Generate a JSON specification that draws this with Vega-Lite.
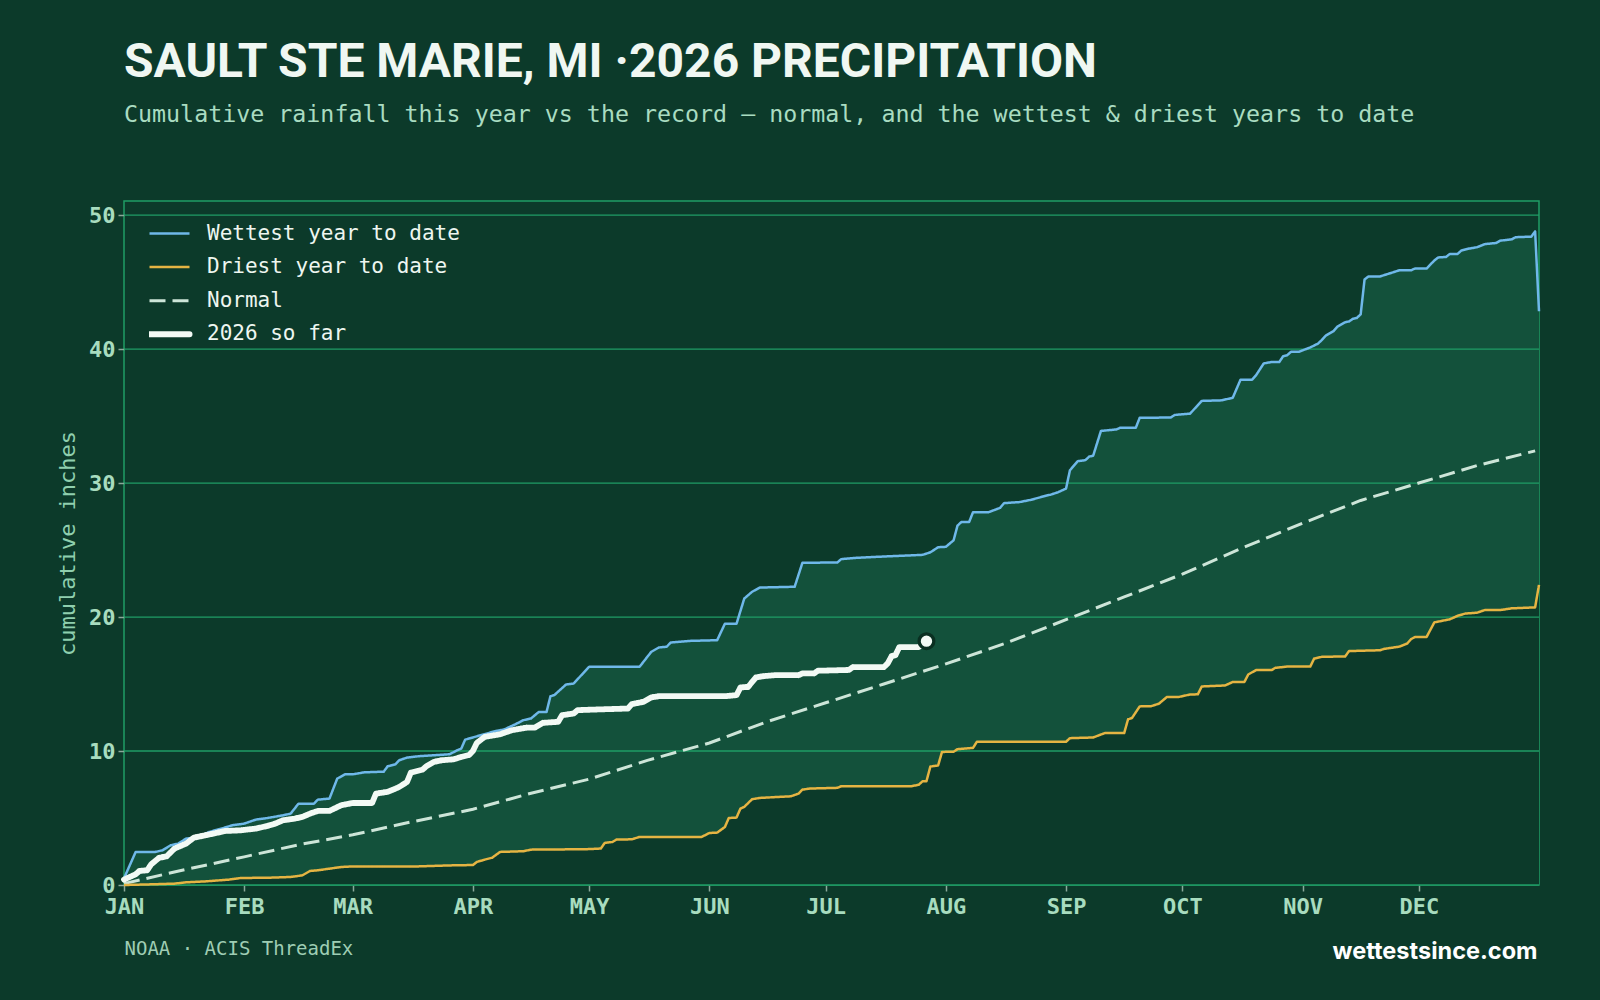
{
  "$schema": "https://vega.github.io/schema/vega-lite/v6.json",
  "width": 1415,
  "height": 684,
  "autosize": {"type": "none"},
  "padding": {"left": 124, "top": 201, "right": 61, "bottom": 115},
  "background": "#0c3a2a",
  "title": {
    "text": "SAULT STE MARIE, MI ·2026 PRECIPITATION",
    "subtitle": "Cumulative rainfall this year vs the record — normal, and the wettest & driest years to date",
    "anchor": "start",
    "frame": "group",
    "font": "Roboto",
    "fontSize": 48,
    "fontWeight": "bold",
    "color": "#f0f7f2",
    "subtitleFont": "DejaVu Sans Mono",
    "subtitleFontSize": 23.3,
    "subtitleColor": "#a9dcc1",
    "subtitlePadding": 17,
    "offset": 75
  },
  "config": {
    "view": {"stroke": "#1f9d66", "strokeWidth": 1.5},
    "legend": {
      "orient": "none",
      "legendX": 25,
      "legendY": 22,
      "padding": 0,
      "symbolType": "stroke",
      "symbolSize": 1600,
      "symbolStrokeWidth": 2.5,
      "symbolOffset": 10,
      "clipHeight": 21,
      "rowPadding": 11.6,
      "labelOffset": 27,
      "labelFont": "DejaVu Sans Mono",
      "labelFontSize": 21,
      "labelColor": "#eef6f0",
      "labelLimit": 400
    }
  },
  "datasets": {
    "grid": [{"v": 0}, {"v": 10}, {"v": 20}, {"v": 30}, {"v": 40}, {"v": 50}],
    "latest": [{"date": "2026-07-27", "inches": 18.2}],
    "lines": [
      {"series": "Normal", "date": "2026-01-01", "inches": 0.1},
      {"series": "Normal", "date": "2026-01-16", "inches": 1.1},
      {"series": "Normal", "date": "2026-02-01", "inches": 2.1},
      {"series": "Normal", "date": "2026-02-15", "inches": 3.0},
      {"series": "Normal", "date": "2026-03-01", "inches": 3.75},
      {"series": "Normal", "date": "2026-03-16", "inches": 4.7},
      {"series": "Normal", "date": "2026-04-01", "inches": 5.65},
      {"series": "Normal", "date": "2026-04-16", "inches": 6.85},
      {"series": "Normal", "date": "2026-05-01", "inches": 7.9},
      {"series": "Normal", "date": "2026-05-16", "inches": 9.3},
      {"series": "Normal", "date": "2026-06-01", "inches": 10.6},
      {"series": "Normal", "date": "2026-06-16", "inches": 12.2},
      {"series": "Normal", "date": "2026-07-01", "inches": 13.6},
      {"series": "Normal", "date": "2026-07-16", "inches": 15.0},
      {"series": "Normal", "date": "2026-08-01", "inches": 16.5},
      {"series": "Normal", "date": "2026-08-16", "inches": 18.0},
      {"series": "Normal", "date": "2026-09-01", "inches": 19.8},
      {"series": "Normal", "date": "2026-09-16", "inches": 21.5},
      {"series": "Normal", "date": "2026-10-01", "inches": 23.2},
      {"series": "Normal", "date": "2026-10-16", "inches": 25.1},
      {"series": "Normal", "date": "2026-11-01", "inches": 27.0},
      {"series": "Normal", "date": "2026-11-16", "inches": 28.7},
      {"series": "Normal", "date": "2026-12-01", "inches": 30.0},
      {"series": "Normal", "date": "2026-12-16", "inches": 31.3},
      {"series": "Normal", "date": "2026-12-31", "inches": 32.4},

      {"series": "Driest year to date", "date": "2026-01-01", "inches": 0.0},
      {"series": "Driest year to date", "date": "2026-01-08", "inches": 0.05},
      {"series": "Driest year to date", "date": "2026-01-14", "inches": 0.1},
      {"series": "Driest year to date", "date": "2026-01-17", "inches": 0.2},
      {"series": "Driest year to date", "date": "2026-01-22", "inches": 0.27},
      {"series": "Driest year to date", "date": "2026-01-28", "inches": 0.4},
      {"series": "Driest year to date", "date": "2026-01-31", "inches": 0.52},
      {"series": "Driest year to date", "date": "2026-02-08", "inches": 0.55},
      {"series": "Driest year to date", "date": "2026-02-13", "inches": 0.6},
      {"series": "Driest year to date", "date": "2026-02-16", "inches": 0.72},
      {"series": "Driest year to date", "date": "2026-02-18", "inches": 1.05},
      {"series": "Driest year to date", "date": "2026-02-20", "inches": 1.1},
      {"series": "Driest year to date", "date": "2026-02-23", "inches": 1.22},
      {"series": "Driest year to date", "date": "2026-02-26", "inches": 1.34},
      {"series": "Driest year to date", "date": "2026-03-01", "inches": 1.39},
      {"series": "Driest year to date", "date": "2026-03-18", "inches": 1.39},
      {"series": "Driest year to date", "date": "2026-03-27", "inches": 1.47},
      {"series": "Driest year to date", "date": "2026-04-01", "inches": 1.49},
      {"series": "Driest year to date", "date": "2026-04-02", "inches": 1.72},
      {"series": "Driest year to date", "date": "2026-04-04", "inches": 1.89},
      {"series": "Driest year to date", "date": "2026-04-06", "inches": 2.04},
      {"series": "Driest year to date", "date": "2026-04-08", "inches": 2.47},
      {"series": "Driest year to date", "date": "2026-04-14", "inches": 2.52},
      {"series": "Driest year to date", "date": "2026-04-16", "inches": 2.64},
      {"series": "Driest year to date", "date": "2026-04-30", "inches": 2.67},
      {"series": "Driest year to date", "date": "2026-05-04", "inches": 2.72},
      {"series": "Driest year to date", "date": "2026-05-05", "inches": 3.14},
      {"series": "Driest year to date", "date": "2026-05-07", "inches": 3.21},
      {"series": "Driest year to date", "date": "2026-05-08", "inches": 3.39},
      {"series": "Driest year to date", "date": "2026-05-12", "inches": 3.41},
      {"series": "Driest year to date", "date": "2026-05-14", "inches": 3.59},
      {"series": "Driest year to date", "date": "2026-05-30", "inches": 3.59},
      {"series": "Driest year to date", "date": "2026-06-01", "inches": 3.88},
      {"series": "Driest year to date", "date": "2026-06-03", "inches": 3.91},
      {"series": "Driest year to date", "date": "2026-06-05", "inches": 4.33},
      {"series": "Driest year to date", "date": "2026-06-06", "inches": 5.0},
      {"series": "Driest year to date", "date": "2026-06-08", "inches": 5.03},
      {"series": "Driest year to date", "date": "2026-06-09", "inches": 5.7},
      {"series": "Driest year to date", "date": "2026-06-10", "inches": 5.83},
      {"series": "Driest year to date", "date": "2026-06-12", "inches": 6.4},
      {"series": "Driest year to date", "date": "2026-06-14", "inches": 6.5},
      {"series": "Driest year to date", "date": "2026-06-22", "inches": 6.62},
      {"series": "Driest year to date", "date": "2026-06-24", "inches": 6.82},
      {"series": "Driest year to date", "date": "2026-06-25", "inches": 7.12},
      {"series": "Driest year to date", "date": "2026-06-27", "inches": 7.2},
      {"series": "Driest year to date", "date": "2026-07-04", "inches": 7.25},
      {"series": "Driest year to date", "date": "2026-07-05", "inches": 7.37},
      {"series": "Driest year to date", "date": "2026-07-23", "inches": 7.37},
      {"series": "Driest year to date", "date": "2026-07-25", "inches": 7.48},
      {"series": "Driest year to date", "date": "2026-07-26", "inches": 7.75},
      {"series": "Driest year to date", "date": "2026-07-27", "inches": 7.75},
      {"series": "Driest year to date", "date": "2026-07-28", "inches": 8.84},
      {"series": "Driest year to date", "date": "2026-07-30", "inches": 8.92},
      {"series": "Driest year to date", "date": "2026-07-31", "inches": 9.93},
      {"series": "Driest year to date", "date": "2026-08-03", "inches": 9.95},
      {"series": "Driest year to date", "date": "2026-08-04", "inches": 10.14},
      {"series": "Driest year to date", "date": "2026-08-08", "inches": 10.23},
      {"series": "Driest year to date", "date": "2026-08-09", "inches": 10.69},
      {"series": "Driest year to date", "date": "2026-09-01", "inches": 10.69},
      {"series": "Driest year to date", "date": "2026-09-02", "inches": 10.96},
      {"series": "Driest year to date", "date": "2026-09-08", "inches": 11.01},
      {"series": "Driest year to date", "date": "2026-09-11", "inches": 11.34},
      {"series": "Driest year to date", "date": "2026-09-16", "inches": 11.34},
      {"series": "Driest year to date", "date": "2026-09-17", "inches": 12.37},
      {"series": "Driest year to date", "date": "2026-09-18", "inches": 12.46},
      {"series": "Driest year to date", "date": "2026-09-20", "inches": 13.33},
      {"series": "Driest year to date", "date": "2026-09-23", "inches": 13.35},
      {"series": "Driest year to date", "date": "2026-09-25", "inches": 13.54},
      {"series": "Driest year to date", "date": "2026-09-27", "inches": 14.03},
      {"series": "Driest year to date", "date": "2026-09-30", "inches": 14.03},
      {"series": "Driest year to date", "date": "2026-10-03", "inches": 14.22},
      {"series": "Driest year to date", "date": "2026-10-05", "inches": 14.23},
      {"series": "Driest year to date", "date": "2026-10-06", "inches": 14.82},
      {"series": "Driest year to date", "date": "2026-10-12", "inches": 14.89},
      {"series": "Driest year to date", "date": "2026-10-14", "inches": 15.15},
      {"series": "Driest year to date", "date": "2026-10-17", "inches": 15.15},
      {"series": "Driest year to date", "date": "2026-10-18", "inches": 15.71},
      {"series": "Driest year to date", "date": "2026-10-20", "inches": 16.04},
      {"series": "Driest year to date", "date": "2026-10-24", "inches": 16.04},
      {"series": "Driest year to date", "date": "2026-10-25", "inches": 16.21},
      {"series": "Driest year to date", "date": "2026-10-28", "inches": 16.3},
      {"series": "Driest year to date", "date": "2026-11-03", "inches": 16.3},
      {"series": "Driest year to date", "date": "2026-11-04", "inches": 16.9},
      {"series": "Driest year to date", "date": "2026-11-06", "inches": 17.03},
      {"series": "Driest year to date", "date": "2026-11-12", "inches": 17.06},
      {"series": "Driest year to date", "date": "2026-11-13", "inches": 17.46},
      {"series": "Driest year to date", "date": "2026-11-21", "inches": 17.52},
      {"series": "Driest year to date", "date": "2026-11-22", "inches": 17.62},
      {"series": "Driest year to date", "date": "2026-11-26", "inches": 17.79},
      {"series": "Driest year to date", "date": "2026-11-28", "inches": 18.02},
      {"series": "Driest year to date", "date": "2026-11-29", "inches": 18.35},
      {"series": "Driest year to date", "date": "2026-11-30", "inches": 18.51},
      {"series": "Driest year to date", "date": "2026-12-03", "inches": 18.51},
      {"series": "Driest year to date", "date": "2026-12-05", "inches": 19.6},
      {"series": "Driest year to date", "date": "2026-12-09", "inches": 19.83},
      {"series": "Driest year to date", "date": "2026-12-11", "inches": 20.09},
      {"series": "Driest year to date", "date": "2026-12-13", "inches": 20.26},
      {"series": "Driest year to date", "date": "2026-12-16", "inches": 20.32},
      {"series": "Driest year to date", "date": "2026-12-18", "inches": 20.52},
      {"series": "Driest year to date", "date": "2026-12-22", "inches": 20.52},
      {"series": "Driest year to date", "date": "2026-12-25", "inches": 20.65},
      {"series": "Driest year to date", "date": "2026-12-31", "inches": 20.72},
      {"series": "Driest year to date", "date": "2027-01-01", "inches": 22.4},

      {"series": "Wettest year to date", "date": "2026-01-01", "inches": 0.5},
      {"series": "Wettest year to date", "date": "2026-01-04", "inches": 2.46},
      {"series": "Wettest year to date", "date": "2026-01-09", "inches": 2.46},
      {"series": "Wettest year to date", "date": "2026-01-11", "inches": 2.6},
      {"series": "Wettest year to date", "date": "2026-01-13", "inches": 2.96},
      {"series": "Wettest year to date", "date": "2026-01-15", "inches": 3.09},
      {"series": "Wettest year to date", "date": "2026-01-17", "inches": 3.46},
      {"series": "Wettest year to date", "date": "2026-01-20", "inches": 3.58},
      {"series": "Wettest year to date", "date": "2026-01-23", "inches": 3.96},
      {"series": "Wettest year to date", "date": "2026-01-26", "inches": 4.2},
      {"series": "Wettest year to date", "date": "2026-01-29", "inches": 4.46},
      {"series": "Wettest year to date", "date": "2026-02-01", "inches": 4.58},
      {"series": "Wettest year to date", "date": "2026-02-04", "inches": 4.88},
      {"series": "Wettest year to date", "date": "2026-02-07", "inches": 5.0},
      {"series": "Wettest year to date", "date": "2026-02-11", "inches": 5.2},
      {"series": "Wettest year to date", "date": "2026-02-13", "inches": 5.33},
      {"series": "Wettest year to date", "date": "2026-02-15", "inches": 6.07},
      {"series": "Wettest year to date", "date": "2026-02-19", "inches": 6.07},
      {"series": "Wettest year to date", "date": "2026-02-20", "inches": 6.37},
      {"series": "Wettest year to date", "date": "2026-02-23", "inches": 6.45},
      {"series": "Wettest year to date", "date": "2026-02-25", "inches": 7.94},
      {"series": "Wettest year to date", "date": "2026-02-27", "inches": 8.26},
      {"series": "Wettest year to date", "date": "2026-03-01", "inches": 8.26},
      {"series": "Wettest year to date", "date": "2026-03-04", "inches": 8.41},
      {"series": "Wettest year to date", "date": "2026-03-09", "inches": 8.46},
      {"series": "Wettest year to date", "date": "2026-03-10", "inches": 8.86},
      {"series": "Wettest year to date", "date": "2026-03-12", "inches": 9.01},
      {"series": "Wettest year to date", "date": "2026-03-13", "inches": 9.31},
      {"series": "Wettest year to date", "date": "2026-03-15", "inches": 9.51},
      {"series": "Wettest year to date", "date": "2026-03-18", "inches": 9.61},
      {"series": "Wettest year to date", "date": "2026-03-26", "inches": 9.76},
      {"series": "Wettest year to date", "date": "2026-03-28", "inches": 10.06},
      {"series": "Wettest year to date", "date": "2026-03-29", "inches": 10.18},
      {"series": "Wettest year to date", "date": "2026-03-30", "inches": 10.85},
      {"series": "Wettest year to date", "date": "2026-03-31", "inches": 10.93},
      {"series": "Wettest year to date", "date": "2026-04-03", "inches": 11.18},
      {"series": "Wettest year to date", "date": "2026-04-07", "inches": 11.5},
      {"series": "Wettest year to date", "date": "2026-04-09", "inches": 11.6},
      {"series": "Wettest year to date", "date": "2026-04-12", "inches": 12.0},
      {"series": "Wettest year to date", "date": "2026-04-14", "inches": 12.3},
      {"series": "Wettest year to date", "date": "2026-04-16", "inches": 12.43},
      {"series": "Wettest year to date", "date": "2026-04-18", "inches": 12.92},
      {"series": "Wettest year to date", "date": "2026-04-20", "inches": 12.92},
      {"series": "Wettest year to date", "date": "2026-04-21", "inches": 14.09},
      {"series": "Wettest year to date", "date": "2026-04-22", "inches": 14.17},
      {"series": "Wettest year to date", "date": "2026-04-25", "inches": 14.96},
      {"series": "Wettest year to date", "date": "2026-04-27", "inches": 15.04},
      {"series": "Wettest year to date", "date": "2026-04-29", "inches": 15.67},
      {"series": "Wettest year to date", "date": "2026-05-01", "inches": 16.29},
      {"series": "Wettest year to date", "date": "2026-05-14", "inches": 16.29},
      {"series": "Wettest year to date", "date": "2026-05-17", "inches": 17.4},
      {"series": "Wettest year to date", "date": "2026-05-19", "inches": 17.73},
      {"series": "Wettest year to date", "date": "2026-05-21", "inches": 17.78},
      {"series": "Wettest year to date", "date": "2026-05-22", "inches": 18.1},
      {"series": "Wettest year to date", "date": "2026-05-27", "inches": 18.22},
      {"series": "Wettest year to date", "date": "2026-06-03", "inches": 18.27},
      {"series": "Wettest year to date", "date": "2026-06-05", "inches": 19.5},
      {"series": "Wettest year to date", "date": "2026-06-08", "inches": 19.5},
      {"series": "Wettest year to date", "date": "2026-06-10", "inches": 21.38},
      {"series": "Wettest year to date", "date": "2026-06-12", "inches": 21.88},
      {"series": "Wettest year to date", "date": "2026-06-14", "inches": 22.2},
      {"series": "Wettest year to date", "date": "2026-06-23", "inches": 22.26},
      {"series": "Wettest year to date", "date": "2026-06-25", "inches": 24.05},
      {"series": "Wettest year to date", "date": "2026-07-04", "inches": 24.07},
      {"series": "Wettest year to date", "date": "2026-07-05", "inches": 24.32},
      {"series": "Wettest year to date", "date": "2026-07-09", "inches": 24.42},
      {"series": "Wettest year to date", "date": "2026-07-17", "inches": 24.53},
      {"series": "Wettest year to date", "date": "2026-07-26", "inches": 24.64},
      {"series": "Wettest year to date", "date": "2026-07-28", "inches": 24.83},
      {"series": "Wettest year to date", "date": "2026-07-30", "inches": 25.21},
      {"series": "Wettest year to date", "date": "2026-08-01", "inches": 25.24},
      {"series": "Wettest year to date", "date": "2026-08-03", "inches": 25.73},
      {"series": "Wettest year to date", "date": "2026-08-04", "inches": 26.82},
      {"series": "Wettest year to date", "date": "2026-08-05", "inches": 27.09},
      {"series": "Wettest year to date", "date": "2026-08-07", "inches": 27.09},
      {"series": "Wettest year to date", "date": "2026-08-08", "inches": 27.82},
      {"series": "Wettest year to date", "date": "2026-08-12", "inches": 27.82},
      {"series": "Wettest year to date", "date": "2026-08-14", "inches": 28.04},
      {"series": "Wettest year to date", "date": "2026-08-15", "inches": 28.15},
      {"series": "Wettest year to date", "date": "2026-08-16", "inches": 28.5},
      {"series": "Wettest year to date", "date": "2026-08-20", "inches": 28.58},
      {"series": "Wettest year to date", "date": "2026-08-23", "inches": 28.75},
      {"series": "Wettest year to date", "date": "2026-08-25", "inches": 28.91},
      {"series": "Wettest year to date", "date": "2026-08-27", "inches": 29.07},
      {"series": "Wettest year to date", "date": "2026-08-28", "inches": 29.13},
      {"series": "Wettest year to date", "date": "2026-08-30", "inches": 29.32},
      {"series": "Wettest year to date", "date": "2026-09-01", "inches": 29.59},
      {"series": "Wettest year to date", "date": "2026-09-02", "inches": 30.95},
      {"series": "Wettest year to date", "date": "2026-09-04", "inches": 31.63},
      {"series": "Wettest year to date", "date": "2026-09-06", "inches": 31.71},
      {"series": "Wettest year to date", "date": "2026-09-07", "inches": 31.98},
      {"series": "Wettest year to date", "date": "2026-09-08", "inches": 32.04},
      {"series": "Wettest year to date", "date": "2026-09-10", "inches": 33.89},
      {"series": "Wettest year to date", "date": "2026-09-14", "inches": 34.0},
      {"series": "Wettest year to date", "date": "2026-09-15", "inches": 34.13},
      {"series": "Wettest year to date", "date": "2026-09-19", "inches": 34.13},
      {"series": "Wettest year to date", "date": "2026-09-20", "inches": 34.87},
      {"series": "Wettest year to date", "date": "2026-09-28", "inches": 34.89},
      {"series": "Wettest year to date", "date": "2026-09-29", "inches": 35.08},
      {"series": "Wettest year to date", "date": "2026-10-03", "inches": 35.18},
      {"series": "Wettest year to date", "date": "2026-10-06", "inches": 36.13},
      {"series": "Wettest year to date", "date": "2026-10-11", "inches": 36.17},
      {"series": "Wettest year to date", "date": "2026-10-14", "inches": 36.36},
      {"series": "Wettest year to date", "date": "2026-10-16", "inches": 37.71},
      {"series": "Wettest year to date", "date": "2026-10-19", "inches": 37.71},
      {"series": "Wettest year to date", "date": "2026-10-20", "inches": 38.04},
      {"series": "Wettest year to date", "date": "2026-10-22", "inches": 38.93},
      {"series": "Wettest year to date", "date": "2026-10-24", "inches": 39.03},
      {"series": "Wettest year to date", "date": "2026-10-26", "inches": 39.03},
      {"series": "Wettest year to date", "date": "2026-10-27", "inches": 39.46},
      {"series": "Wettest year to date", "date": "2026-10-28", "inches": 39.53},
      {"series": "Wettest year to date", "date": "2026-10-29", "inches": 39.79},
      {"series": "Wettest year to date", "date": "2026-10-31", "inches": 39.79},
      {"series": "Wettest year to date", "date": "2026-11-03", "inches": 40.12},
      {"series": "Wettest year to date", "date": "2026-11-05", "inches": 40.41},
      {"series": "Wettest year to date", "date": "2026-11-06", "inches": 40.68},
      {"series": "Wettest year to date", "date": "2026-11-07", "inches": 41.0},
      {"series": "Wettest year to date", "date": "2026-11-09", "inches": 41.34},
      {"series": "Wettest year to date", "date": "2026-11-10", "inches": 41.67},
      {"series": "Wettest year to date", "date": "2026-11-12", "inches": 42.0},
      {"series": "Wettest year to date", "date": "2026-11-13", "inches": 42.06},
      {"series": "Wettest year to date", "date": "2026-11-14", "inches": 42.26},
      {"series": "Wettest year to date", "date": "2026-11-15", "inches": 42.32},
      {"series": "Wettest year to date", "date": "2026-11-16", "inches": 42.59},
      {"series": "Wettest year to date", "date": "2026-11-17", "inches": 45.19},
      {"series": "Wettest year to date", "date": "2026-11-18", "inches": 45.42},
      {"series": "Wettest year to date", "date": "2026-11-21", "inches": 45.42},
      {"series": "Wettest year to date", "date": "2026-11-26", "inches": 45.88},
      {"series": "Wettest year to date", "date": "2026-11-29", "inches": 45.88},
      {"series": "Wettest year to date", "date": "2026-11-30", "inches": 46.01},
      {"series": "Wettest year to date", "date": "2026-12-03", "inches": 46.01},
      {"series": "Wettest year to date", "date": "2026-12-05", "inches": 46.61},
      {"series": "Wettest year to date", "date": "2026-12-06", "inches": 46.84},
      {"series": "Wettest year to date", "date": "2026-12-08", "inches": 46.87},
      {"series": "Wettest year to date", "date": "2026-12-09", "inches": 47.1},
      {"series": "Wettest year to date", "date": "2026-12-11", "inches": 47.1},
      {"series": "Wettest year to date", "date": "2026-12-12", "inches": 47.36},
      {"series": "Wettest year to date", "date": "2026-12-14", "inches": 47.5},
      {"series": "Wettest year to date", "date": "2026-12-16", "inches": 47.6},
      {"series": "Wettest year to date", "date": "2026-12-18", "inches": 47.83},
      {"series": "Wettest year to date", "date": "2026-12-21", "inches": 47.92},
      {"series": "Wettest year to date", "date": "2026-12-22", "inches": 48.09},
      {"series": "Wettest year to date", "date": "2026-12-25", "inches": 48.19},
      {"series": "Wettest year to date", "date": "2026-12-26", "inches": 48.35},
      {"series": "Wettest year to date", "date": "2026-12-30", "inches": 48.39},
      {"series": "Wettest year to date", "date": "2026-12-31", "inches": 48.78},
      {"series": "Wettest year to date", "date": "2027-01-01", "inches": 42.82},

      {"series": "2026 so far", "date": "2026-01-01", "inches": 0.4},
      {"series": "2026 so far", "date": "2026-01-04", "inches": 0.8},
      {"series": "2026 so far", "date": "2026-01-05", "inches": 1.05},
      {"series": "2026 so far", "date": "2026-01-07", "inches": 1.1},
      {"series": "2026 so far", "date": "2026-01-08", "inches": 1.54},
      {"series": "2026 so far", "date": "2026-01-10", "inches": 2.02},
      {"series": "2026 so far", "date": "2026-01-12", "inches": 2.14},
      {"series": "2026 so far", "date": "2026-01-14", "inches": 2.71},
      {"series": "2026 so far", "date": "2026-01-15", "inches": 2.84},
      {"series": "2026 so far", "date": "2026-01-17", "inches": 3.09},
      {"series": "2026 so far", "date": "2026-01-19", "inches": 3.53},
      {"series": "2026 so far", "date": "2026-01-22", "inches": 3.71},
      {"series": "2026 so far", "date": "2026-01-24", "inches": 3.83},
      {"series": "2026 so far", "date": "2026-01-26", "inches": 3.96},
      {"series": "2026 so far", "date": "2026-01-27", "inches": 4.03},
      {"series": "2026 so far", "date": "2026-01-31", "inches": 4.08},
      {"series": "2026 so far", "date": "2026-02-04", "inches": 4.21},
      {"series": "2026 so far", "date": "2026-02-07", "inches": 4.41},
      {"series": "2026 so far", "date": "2026-02-09", "inches": 4.58},
      {"series": "2026 so far", "date": "2026-02-11", "inches": 4.83},
      {"series": "2026 so far", "date": "2026-02-14", "inches": 4.95},
      {"series": "2026 so far", "date": "2026-02-16", "inches": 5.08},
      {"series": "2026 so far", "date": "2026-02-18", "inches": 5.33},
      {"series": "2026 so far", "date": "2026-02-20", "inches": 5.53},
      {"series": "2026 so far", "date": "2026-02-23", "inches": 5.53},
      {"series": "2026 so far", "date": "2026-02-26", "inches": 5.95},
      {"series": "2026 so far", "date": "2026-03-01", "inches": 6.12},
      {"series": "2026 so far", "date": "2026-03-06", "inches": 6.12},
      {"series": "2026 so far", "date": "2026-03-07", "inches": 6.82},
      {"series": "2026 so far", "date": "2026-03-10", "inches": 6.95},
      {"series": "2026 so far", "date": "2026-03-12", "inches": 7.19},
      {"series": "2026 so far", "date": "2026-03-13", "inches": 7.32},
      {"series": "2026 so far", "date": "2026-03-15", "inches": 7.69},
      {"series": "2026 so far", "date": "2026-03-16", "inches": 8.39},
      {"series": "2026 so far", "date": "2026-03-19", "inches": 8.61},
      {"series": "2026 so far", "date": "2026-03-20", "inches": 8.86},
      {"series": "2026 so far", "date": "2026-03-22", "inches": 9.19},
      {"series": "2026 so far", "date": "2026-03-24", "inches": 9.31},
      {"series": "2026 so far", "date": "2026-03-27", "inches": 9.38},
      {"series": "2026 so far", "date": "2026-03-29", "inches": 9.56},
      {"series": "2026 so far", "date": "2026-03-31", "inches": 9.7},
      {"series": "2026 so far", "date": "2026-04-01", "inches": 10.0},
      {"series": "2026 so far", "date": "2026-04-02", "inches": 10.6},
      {"series": "2026 so far", "date": "2026-04-04", "inches": 11.05},
      {"series": "2026 so far", "date": "2026-04-08", "inches": 11.25},
      {"series": "2026 so far", "date": "2026-04-11", "inches": 11.55},
      {"series": "2026 so far", "date": "2026-04-15", "inches": 11.75},
      {"series": "2026 so far", "date": "2026-04-17", "inches": 11.75},
      {"series": "2026 so far", "date": "2026-04-19", "inches": 12.1},
      {"series": "2026 so far", "date": "2026-04-23", "inches": 12.18},
      {"series": "2026 so far", "date": "2026-04-24", "inches": 12.67},
      {"series": "2026 so far", "date": "2026-04-27", "inches": 12.8},
      {"series": "2026 so far", "date": "2026-04-28", "inches": 13.05},
      {"series": "2026 so far", "date": "2026-05-03", "inches": 13.1},
      {"series": "2026 so far", "date": "2026-05-11", "inches": 13.17},
      {"series": "2026 so far", "date": "2026-05-12", "inches": 13.5},
      {"series": "2026 so far", "date": "2026-05-15", "inches": 13.67},
      {"series": "2026 so far", "date": "2026-05-17", "inches": 14.0},
      {"series": "2026 so far", "date": "2026-05-19", "inches": 14.09},
      {"series": "2026 so far", "date": "2026-06-05", "inches": 14.09},
      {"series": "2026 so far", "date": "2026-06-08", "inches": 14.17},
      {"series": "2026 so far", "date": "2026-06-09", "inches": 14.74},
      {"series": "2026 so far", "date": "2026-06-11", "inches": 14.79},
      {"series": "2026 so far", "date": "2026-06-13", "inches": 15.49},
      {"series": "2026 so far", "date": "2026-06-15", "inches": 15.59},
      {"series": "2026 so far", "date": "2026-06-18", "inches": 15.66},
      {"series": "2026 so far", "date": "2026-06-24", "inches": 15.66},
      {"series": "2026 so far", "date": "2026-06-25", "inches": 15.79},
      {"series": "2026 so far", "date": "2026-06-28", "inches": 15.79},
      {"series": "2026 so far", "date": "2026-06-29", "inches": 15.99},
      {"series": "2026 so far", "date": "2026-07-07", "inches": 16.05},
      {"series": "2026 so far", "date": "2026-07-08", "inches": 16.26},
      {"series": "2026 so far", "date": "2026-07-16", "inches": 16.26},
      {"series": "2026 so far", "date": "2026-07-17", "inches": 16.54},
      {"series": "2026 so far", "date": "2026-07-18", "inches": 17.08},
      {"series": "2026 so far", "date": "2026-07-19", "inches": 17.16},
      {"series": "2026 so far", "date": "2026-07-20", "inches": 17.76},
      {"series": "2026 so far", "date": "2026-07-25", "inches": 17.76},
      {"series": "2026 so far", "date": "2026-07-27", "inches": 18.2}
    ]
  },
  "resolve": {"axis": {"y": "independent"}},
  "layer": [
    {
      "description": "Band from zero up to the wettest year",
      "data": {"name": "lines"},
      "transform": [{"filter": "datum.series === 'Wettest year to date'"}],
      "mark": {"type": "area", "color": "#13513b", "opacity": 1},
      "encoding": {
        "x": {
          "field": "date",
          "type": "temporal",
          "scale": {
            "type": "utc",
            "domain": [
              {"year": 2026, "month": 1, "date": 1, "utc": true},
              {"year": 2027, "month": 1, "date": 1, "utc": true}
            ]
          },
          "axis": {
            "values": [
              {"year": 2026, "month": 1, "date": 1, "utc": true},
              {"year": 2026, "month": 2, "date": 1, "utc": true},
              {"year": 2026, "month": 3, "date": 1, "utc": true},
              {"year": 2026, "month": 4, "date": 1, "utc": true},
              {"year": 2026, "month": 5, "date": 1, "utc": true},
              {"year": 2026, "month": 6, "date": 1, "utc": true},
              {"year": 2026, "month": 7, "date": 1, "utc": true},
              {"year": 2026, "month": 8, "date": 1, "utc": true},
              {"year": 2026, "month": 9, "date": 1, "utc": true},
              {"year": 2026, "month": 10, "date": 1, "utc": true},
              {"year": 2026, "month": 11, "date": 1, "utc": true},
              {"year": 2026, "month": 12, "date": 1, "utc": true}
            ],
            "labelExpr": "upper(utcFormat(datum.value, '%b'))",
            "labelFlush": false,
            "labelOverlap": false,
            "grid": false,
            "domain": false,
            "tickColor": "#8aa89a",
            "tickSize": 6,
            "tickWidth": 1.5,
            "labelFont": "DejaVu Sans Mono",
            "labelFontSize": 22,
            "labelFontWeight": "bold",
            "labelColor": "#a8dcbf",
            "labelPadding": 5,
            "title": "NOAA · ACIS ThreadEx",
            "titleFont": "DejaVu Sans Mono",
            "titleFontSize": 19,
            "titleFontWeight": "normal",
            "titleColor": "#9fcdb4",
            "titleAnchor": "start",
            "titleAlign": "left",
            "titleBaseline": "alphabetic",
            "titleX": 0,
            "titleY": 69
          }
        },
        "y": {
          "field": "inches",
          "type": "quantitative",
          "scale": {"domain": [0, 51.05], "nice": false},
          "axis": {
            "orient": "left",
            "values": [0, 10, 20, 30, 40, 50],
            "grid": false,
            "domain": false,
            "tickColor": "#8aa89a",
            "tickSize": 6,
            "tickWidth": 1.5,
            "labelFont": "DejaVu Sans Mono",
            "labelFontSize": 22,
            "labelFontWeight": "bold",
            "labelColor": "#a8dcbf",
            "labelPadding": 3,
            "title": "cumulative inches",
            "titleFont": "DejaVu Sans Mono",
            "titleFontSize": 22,
            "titleFontWeight": "normal",
            "titleColor": "#8fcfae",
            "titlePadding": 9
          }
        }
      }
    },
    {
      "description": "Background-coloured fill below the driest year, leaving only the band between the extremes",
      "data": {"name": "lines"},
      "transform": [{"filter": "datum.series === 'Driest year to date'"}],
      "mark": {"type": "area", "color": "#0c3a2a", "opacity": 1},
      "encoding": {
        "x": {"field": "date", "type": "temporal"},
        "y": {"field": "inches", "type": "quantitative", "axis": null}
      }
    },
    {
      "description": "Horizontal gridlines, drawn over the band",
      "data": {"name": "grid"},
      "mark": {"type": "rule", "color": "#1f9d66", "strokeWidth": 1.3},
      "encoding": {
        "y": {
          "field": "v",
          "type": "quantitative",
          "axis": {
            "orient": "right",
            "labels": false,
            "ticks": false,
            "domain": false,
            "grid": false,
            "title": "wettestsince.com",
            "titleAngle": 0,
            "titleAlign": "right",
            "titleBaseline": "alphabetic",
            "titleX": -2,
            "titleY": 757,
            "titleFont": "Inter",
            "titleFontSize": 23.5,
            "titleFontWeight": "bold",
            "titleColor": "#ffffff"
          }
        }
      }
    },
    {
      "data": {"name": "lines"},
      "transform": [{"filter": "datum.series === 'Normal'"}],
      "mark": {"type": "line", "strokeWidth": 3, "strokeJoin": "round"},
      "encoding": {
        "x": {"field": "date", "type": "temporal"},
        "y": {"field": "inches", "type": "quantitative", "axis": null},
        "color": {
          "field": "series",
          "type": "nominal",
          "scale": {
            "domain": ["Wettest year to date", "Driest year to date", "Normal", "2026 so far"],
            "range": ["#6fb8e9", "#e5b443", "#cde5d8", "#f3faf5"]
          },
          "legend": {
            "title": null,
            "encode": {
              "symbols": {
                "update": {
                  "strokeWidth": {"signal": "datum.label === '2026 so far' ? 6 : (datum.label === 'Normal' ? 3 : 2.5)"},
                  "strokeCap": {"signal": "datum.label === '2026 so far' ? 'round' : 'butt'"}
                }
              }
            }
          }
        },
        "strokeDash": {
          "field": "series",
          "type": "nominal",
          "scale": {
            "domain": ["Wettest year to date", "Driest year to date", "Normal", "2026 so far"],
            "range": [[1, 0], [1, 0], [16, 7], [1, 0]]
          },
          "legend": {"title": null}
        }
      }
    },
    {
      "data": {"name": "lines"},
      "transform": [{"filter": "datum.series === 'Driest year to date'"}],
      "mark": {"type": "line", "strokeWidth": 2.5, "strokeJoin": "round"},
      "encoding": {
        "x": {"field": "date", "type": "temporal"},
        "y": {"field": "inches", "type": "quantitative", "axis": null},
        "color": {"field": "series", "type": "nominal"},
        "strokeDash": {"field": "series", "type": "nominal"}
      }
    },
    {
      "data": {"name": "lines"},
      "transform": [{"filter": "datum.series === 'Wettest year to date'"}],
      "mark": {"type": "line", "strokeWidth": 2.5, "strokeJoin": "round"},
      "encoding": {
        "x": {"field": "date", "type": "temporal"},
        "y": {"field": "inches", "type": "quantitative", "axis": null},
        "color": {"field": "series", "type": "nominal"},
        "strokeDash": {"field": "series", "type": "nominal"}
      }
    },
    {
      "data": {"name": "lines"},
      "transform": [{"filter": "datum.series === '2026 so far'"}],
      "mark": {"type": "line", "strokeWidth": 5.8, "strokeJoin": "round", "strokeCap": "round"},
      "encoding": {
        "x": {"field": "date", "type": "temporal"},
        "y": {"field": "inches", "type": "quantitative", "axis": null},
        "color": {"field": "series", "type": "nominal"},
        "strokeDash": {"field": "series", "type": "nominal"}
      }
    },
    {
      "description": "Latest observation",
      "data": {"name": "latest"},
      "mark": {"type": "circle", "fill": "#f3faf5", "stroke": "#0a2f21", "strokeWidth": 3.3, "size": 215, "opacity": 1},
      "encoding": {
        "x": {"field": "date", "type": "temporal"},
        "y": {"field": "inches", "type": "quantitative", "axis": null}
      }
    }
  ]
}
